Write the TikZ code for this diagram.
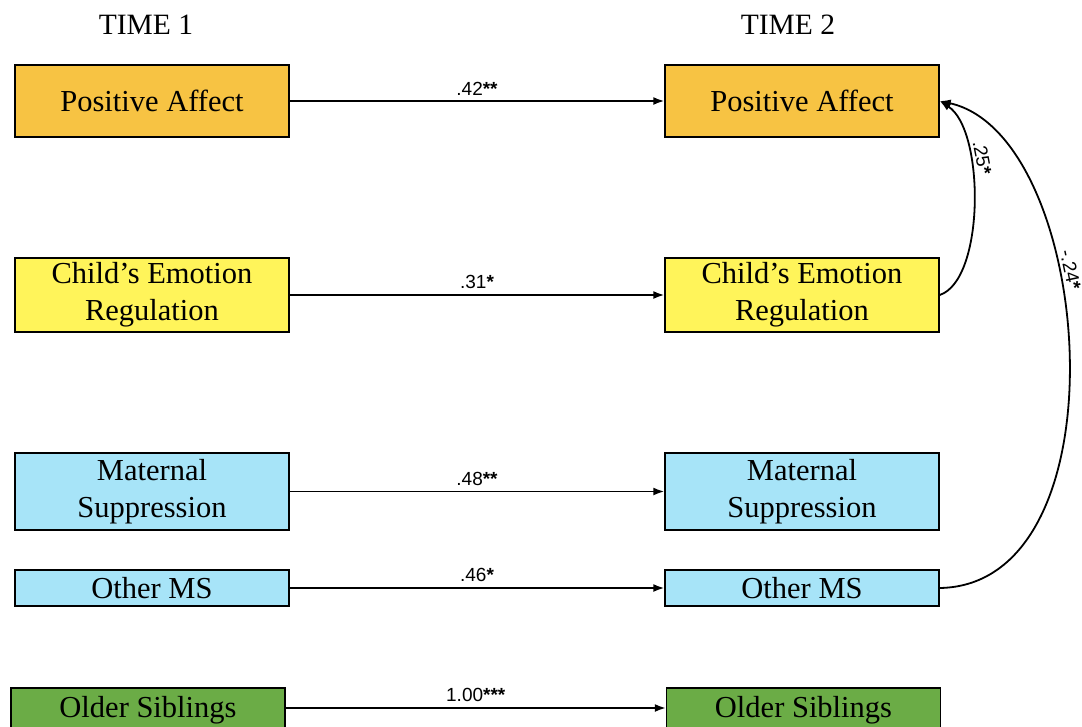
\documentclass[tikz,border=0pt]{standalone}
\usepackage{fontspec}
\setmainfont{Liberation Serif}
\newfontfamily\labelfont{Liberation Sans}
\usetikzlibrary{arrows.meta}
\definecolor{affect}{HTML}{F7C343}
\definecolor{regul}{HTML}{FFF45A}
\definecolor{suppr}{HTML}{A7E4F8}
\definecolor{sibl}{HTML}{6BAC46}
\newcommand{\sig}[1]{\textbf{#1}}
\begin{document}
\begin{tikzpicture}[x=1pt,y=-1pt,
  varbox/.style={draw=black,line width=1.4pt,minimum width=274pt,inner sep=0pt,
    align=center,font=\fontsize{30.5}{37}\selectfont},
  heading/.style={font=\fontsize{29.5}{32}\selectfont},
  path/.style={line width=1.8pt,-{Latex[length=11pt,width=8pt]}},
  backpath/.style={line width=1.8pt,{Latex[length=11pt,width=8pt]}-},
  coef/.style={font=\labelfont\fontsize{19}{22}\selectfont,inner sep=1pt}]
\useasboundingbox (0,0) rectangle (1082,726);
\begin{scope}
\clip (0,0) rectangle (1082,726);

% column headings
\node[heading] (t1) at (146,25) {TIME 1};
\node[heading] (t2) at (788,25) {TIME 2};

% time 1 variables
\node[varbox,fill=affect,minimum height=72pt] (pa1) at (152,101) {Positive Affect};
\node[varbox,fill=regul,minimum height=74pt] (er1) at (152,295) {\raisebox{-3pt}{Child’s Emotion}\\\raisebox{-3pt}{Regulation}};
\node[varbox,fill=suppr,minimum height=77pt] (ms1) at (152,491.5) {\raisebox{-3pt}{Maternal}\\\raisebox{-3pt}{Suppression}};
\node[varbox,fill=suppr,minimum height=36pt] (om1) at (152,588) {Other MS};
\node[varbox,fill=sibl,minimum height=44pt] (os1) at (148,710) {Older Siblings};

% time 2 variables
\node[varbox,fill=affect,minimum height=72pt] (pa2) at (802,101) {Positive Affect};
\node[varbox,fill=regul,minimum height=74pt] (er2) at (802,295) {\raisebox{-3pt}{Child’s Emotion}\\\raisebox{-3pt}{Regulation}};
\node[varbox,fill=suppr,minimum height=77pt] (ms2) at (802,491.5) {\raisebox{-3pt}{Maternal}\\\raisebox{-3pt}{Suppression}};
\node[varbox,fill=suppr,minimum height=36pt] (om2) at (802,588) {Other MS};
\node[varbox,fill=sibl,minimum height=44pt] (os2) at (803.5,710) {Older Siblings};

% stability paths
\draw[path] (pa1) -- node[coef,above=4pt] {.42\sig{**}} (pa2);
\draw[path] (er1) -- node[coef,above=4pt] {.31\sig{*}} (er2);
\draw[path] (ms1) -- node[coef,above=4pt] {.48\sig{**}} (ms2);
\draw[path] (om1) -- node[coef,above=4pt] {.46\sig{*}} (om2);
\draw[path] (os1.east |- 0,708) -- node[coef,above=4pt] {1.00\sig{***}} (os2.west |- 0,708);

% cross-lagged paths into positive affect
\draw[backpath] (pa2.east) .. controls (985,130) and (985,280) .. (er2.east)
  node[coef,pos=0.33,sloped,above=4pt] {.25\sig{*}};
\draw[backpath] (pa2.east) .. controls (1095,135) and (1128,585) .. (om2.east)
  node[coef,pos=0.38,sloped,above=4pt] {-.24\sig{*}};
\end{scope}
\end{tikzpicture}
\end{document}
